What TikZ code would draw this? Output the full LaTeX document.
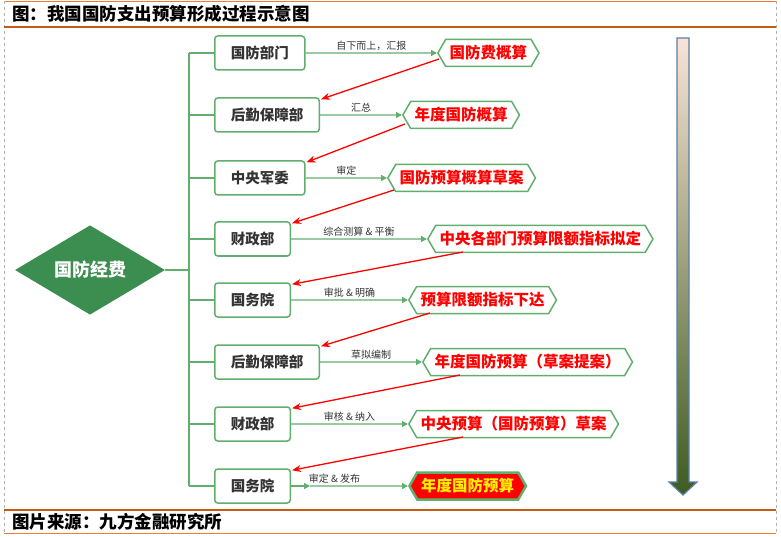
\documentclass[tikz,border=0pt]{standalone}
\usepackage{fontspec}
\setmainfont{Noto Sans CJK SC}
\usetikzlibrary{arrows.meta}
\usetikzlibrary{shapes.geometric}
\usetikzlibrary{shapes.symbols}

\definecolor{boxgreen}{HTML}{62AE6F}
\definecolor{leafgreen}{HTML}{3C8D50}
\definecolor{framebrown}{HTML}{C55A11}
\definecolor{frameorange}{HTML}{ED7D31}
\definecolor{textgray}{HTML}{333333}
\definecolor{peach}{HTML}{F9E3D6}
\definecolor{paleolive}{HTML}{B2D092}
\definecolor{darkolive}{HTML}{3D5C22}
\definecolor{steelblue}{HTML}{5B7FA6}

\tikzset{
  dept/.style={draw=boxgreen, line width=1.5pt, rounded corners=3pt, fill=white,
    anchor=west, minimum height=34pt, inner xsep=16pt, text=textgray,
    font=\bfseries\fontsize{14.5}{16}\selectfont},
  result/.style={signal, signal to=west and east, signal pointer angle=120,
    draw=boxgreen, line width=1.5pt, fill=white, anchor=west,
    minimum height=27pt, inner xsep=4pt, text=red,
    font=\bfseries\fontsize{15.5}{17}\selectfont},
  flow/.style={draw=boxgreen, line width=1.3pt, -{Triangle[length=6pt,width=6pt]}},
  back/.style={draw=red, line width=1.3pt, -{Stealth[length=9pt,width=7pt]}},
  steplabel/.style={above, font=\fontsize{10}{11}\selectfont, text=textgray, inner sep=2pt},
}

\begin{document}
\begin{tikzpicture}[x=1pt, y=-1pt]
\useasboundingbox (0,0) rectangle (781,537);
% frame
\draw [frameorange, line width=0.8pt] (4,1) -- (776,1);
\draw [frameorange, line width=0.8pt] (4,533) -- (776,533);
\draw [gray!60, dashed, line width=0.6pt] (4,1) -- (4,533);
\draw [gray!60, dashed, line width=0.6pt] (776,1) -- (776,533);
\draw [framebrown, line width=2.5pt] (4,27) -- (776,27);
\draw [framebrown, line width=2.5pt] (4,510) -- (776,510);
\node (title) [anchor=west, inner sep=0pt, font=\bfseries\fontsize{17.5}{19}\selectfont] at (12,14) {图：我国国防支出预算形成过程示意图};
\node (source) [anchor=west, inner sep=0pt, font=\bfseries\fontsize{17.5}{19}\selectfont] at (12,522) {图片来源：九方金融研究所};
% root
\node (root) [diamond, fill=leafgreen, minimum width=150pt, minimum height=87pt,
  inner sep=0pt, text=white, font=\bfseries\fontsize{18}{20}\selectfont] at (90,270) {国防经费};
% steps
\foreach \i/\y/\dept/\act/\hx/\res in {
  1/53/国防部门/自下而上，汇报/437/国防费概算,
  2/115/后勤保障部/汇总/402/年度国防概算,
  3/178/中央军委/审定/387/国防预算概算草案,
  4/239/财政部/综合测算 \& 平衡/427/中央各部门预算限额指标拟定,
  5/300/国务院/审批 \& 明确/408/预算限额指标下达,
  6/362/后勤保障部/草拟编制/422/年度国防预算（草案提案）,
  7/424/财政部/审核 \& 纳入/408/中央预算（国防预算）草案} {
  \coordinate (t\i) at (189,\y);
  \node (b\i) [dept] at (214,\y) {\dept};
  \node (h\i) [result] at (\hx,\y) {\res};
  \draw (t\i) [boxgreen, line width=1.5pt] -- (b\i);
  \draw [flow] (b\i) -- (h\i) node [midway, steplabel] {\act};
}
% last step
\coordinate (t8) at (189,486);
\node (b8) [dept] at (214,486) {国务院};
\node (h8) [result, fill=red, text=yellow, line width=2.5pt] at (408,486) {年度国防预算};
\coordinate (m8) at (310,486);
\draw (t8) [boxgreen, line width=1.5pt] -- (b8);
\draw [flow] (b8) -- (m8);
\draw [flow] (m8) -- (h8) node [pos=0.25, steplabel] {审定 \& 发布};
% trunk
\draw [boxgreen, line width=1.8pt] (t1) -- (t8);
\draw [boxgreen, line width=1.8pt] (root.east) -- (root.east -| t1);
% back links
\foreach \i/\j/\d/\e in {1/2/2/6, 2/3/3/9, 3/4/7/12, 4/5/36/13, 5/6/22/13, 6/7/38/13, 7/8/55/13} {
  \draw [back] ([xshift=\d pt, yshift=-\e pt]h\i.west) -- ([xshift=1pt, yshift=-2pt]b\j.north east);
}
% time arrow
\shade [top color=peach, middle color=paleolive, bottom color=darkolive]
  (677,38) -- (689,38) -- (689,482) -- (697,482) -- (683,495) -- (669,482) -- (677,482) -- cycle;
\draw [steelblue, line width=1.2pt, line join=miter]
  (677,38) -- (689,38) -- (689,482) -- (697,482) -- (683,495) -- (669,482) -- (677,482) -- cycle;
\end{tikzpicture}
\end{document}
